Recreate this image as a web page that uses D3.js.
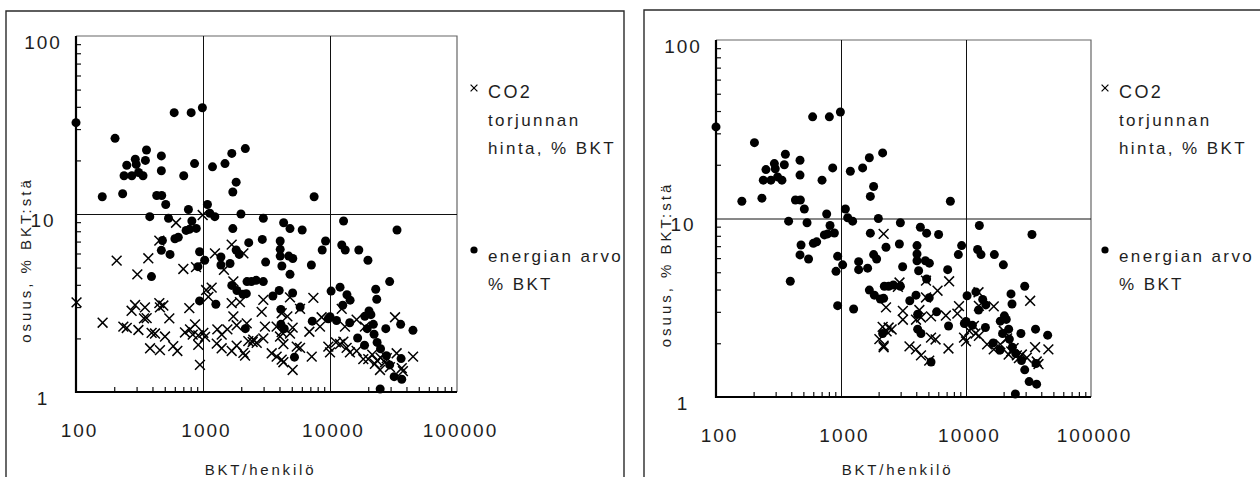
<!DOCTYPE html>
<html>
<head>
<meta charset="utf-8">
<script src="https://cdn.jsdelivr.net/npm/d3@7"></script>
<style>
  body { margin: 0; background: #fff; }
  text { font-family: "Liberation Sans", Arial, sans-serif; fill: #1e1e1e; }
</style>
</head>
<body>
<div id="chart"></div>
<script>
// energian arvo, % BKT  (BKT/henkilö, osuus %) - same set in both panels
var energyPoints = [
  [100,32.6],[203,26.6],[593,37.1],[807,37.1],[989,39.5],[161,12.5],[233,13.0],[239,16.4],
  [275,16.4],[251,18.8],[293,20.3],[298,19.0],[311,17.1],[337,16.4],[359,22.9],[352,20.0],
  [470,21.2],[470,17.5],[432,12.7],[473,12.7],[509,11.3],[705,16.4],[858,19.2],[1188,18.4],
  [1490,19.2],[1686,21.9],[2154,23.3],[1824,15.1],[1717,13.3],[381,9.66],[535,9.46],[768,10.6],
  [817,9.14],[736,8.09],[782,8.2],[885,8.3],[601,7.26],[639,7.4],[479,7.1],[470,6.25],
  [550,5.93],[393,4.45],[1084,11.3],[1131,10.1],[1239,9.66],[940,6.14],[1031,5.5],[912,5.06],
  [1384,5.73],[1384,5.17],[1633,5.27],[940,3.25],[1262,3.11],[1990,10.0],[1717,8.28],[2291,6.9],
  [1824,6.28],[1928,5.93],[2985,9.46],[2931,7.2],[3113,5.37],[1686,3.97],[1849,3.72],[2065,3.54],
  [2193,3.57],[2221,4.17],[2405,4.17],[2622,4.24],[2985,4.17],[2154,2.27],
  [7499,12.5],[4315,8.93],[4842,8.28],[6038,8.13],[12790,9.14],[33700,8.13],[4055,7.05],[4055,6.33],
  [4055,5.8],[4732,5.8],[5093,5.62],[4178,5.1],[7134,5.17],[8684,6.28],[9228,7.05],[12380,6.7],
  [13180,6.28],[16860,6.28],[19900,5.5],[4842,4.58],[5080,3.6],[3981,3.72],[3550,3.46],[5821,3.0],
  [4105,2.91],[4105,2.4],[4365,2.27],[7250,2.5],[5250,1.57],[10200,3.69],[12000,3.88],[13600,3.52],
  [14400,3.28],[12600,3.07],[9700,2.58],[10000,2.65],[11250,2.52],[14300,2.45],[16500,2.01],[18700,1.83],
  [18800,2.66],[20280,2.85],[21000,2.72],[21950,2.4],[22910,3.78],[23340,3.32],[29500,4.17],[27500,2.27],
  [22230,2.11],[23500,1.9],[25000,1.75],[27800,1.6],[29500,1.42],[32000,1.22],[36730,1.18],[24830,1.04],
  [36000,2.4],[45000,2.22],[36300,1.54],[19630,2.27]
];

// CO2 torjunnan hinta, % BKT - left panel
var co2PointsA = [
  [101,3.19],[162,2.45],[209,5.47],[304,4.58],[371,5.64],[236,2.33],[251,2.29],[274,2.86],
  [292,3.08],[310,2.23],[349,2.99],[343,2.59],[360,2.6],[394,2.15],[419,2.13],[383,1.76],
  [458,1.72],[453,3.16],[487,3.06],[458,2.99],[543,2.59],[502,2.05],[583,1.81],[628,1.7],
  [700,4.91],[881,5.03],[613,8.93],[453,7.08],[780,2.96],[721,2.16],[790,2.25],[865,2.4],
  [830,2.1],[918,2.08],[918,1.84],[946,1.42],[1006,2.15],[1038,2.04],[994,9.87],[1058,3.74],
  [1170,3.86],[1102,3.42],[1242,6.01],[1297,2.25],[1403,2.1],[1283,1.87],[1403,1.76],[1556,2.25],
  [1682,1.7],[1462,4.86],[1682,6.73],[2080,6.01],[1734,4.18],[1682,3.16],[1954,3.2],[1734,2.66],
  [1841,2.37],[1841,1.82],[2080,1.66],[2143,1.6],[2274,1.93],[2460,1.91],[2648,1.89],[2209,2.43],
  [2985,3.29],[2897,2.82],[3074,2.33],[2985,2.0],[2489,1.97],[3800,2.33],[4165,2.77],[4616,2.66],
  [4842,3.4],[4040,2.05],[4295,1.86],[4165,2.17],[4842,2.13],[5080,2.3],[3475,1.65],[3800,1.58],
  [4165,1.52],[4295,1.47],[5080,1.33],[5470,1.8],[5810,1.77],[5810,2.93],[7395,3.38],[6880,2.18],
  [7180,1.58],[8340,2.33],[8590,2.63],[9700,1.8],[10000,1.67],[11140,1.9],[11990,1.86],[12740,1.92],
  [12370,2.93],[13120,2.33],[13520,1.77],[14350,1.67],[16200,1.7],[16200,2.55],[18290,1.53],[18840,2.33],
  [20010,1.53],[21500,1.62],[22570,1.44],[24760,1.33],[27100,1.47],[28000,1.55],[29640,1.38],[33480,1.65],
  [32510,2.63],[36730,1.36],[37500,1.31],[45100,1.58],[25000,1.56],[23500,1.5]
];

// CO2 torjunnan hinta, % BKT - right panel
var co2PointsB = [
  [2193,8.2],[2291,3.18],[2938,4.38],[2851,4.14],[4786,4.49],[5920,3.94],[7330,4.45],[4786,3.61],
  [3126,3.04],[4236,3.07],[4365,2.79],[5250,2.83],[3981,2.71],[3126,2.71],[2541,2.39],[2154,2.47],
  [2405,2.45],[2317,2.33],[2028,2.11],[2193,1.9],[2193,1.94],[3531,1.92],[3981,1.85],[4365,1.71],
  [5080,1.6],[5250,2.15],[5710,2.1],[7240,1.87],[6900,2.86],[8790,3.23],[8530,2.93],[9640,2.15],
  [10000,2.05],[10610,2.35],[12590,3.86],[12680,3.24],[11560,2.5],[11930,2.27],[12680,2.2],[14760,1.97],
  [16670,3.22],[16670,1.85],[20040,2.35],[21300,2.13],[21930,1.73],[24040,1.88],[25530,1.71],[27980,1.73],
  [30660,1.66],[32600,3.46],[35700,1.9],[36810,1.58],[38000,1.53],[45600,1.85],[18840,1.97],[26500,1.65],
  [23000,1.8]
];

var xTickLabels = [100, 1000, 10000, 100000];
var yTickLabels = [1, 10, 100];
var xGrid = [1000, 10000];
var yGrid = [10];
var xMinor = [200,300,400,500,600,700,800,900,2000,3000,4000,5000,6000,7000,8000,9000,
              20000,30000,40000,50000,60000,70000,80000,90000];
var yMinor = [2,3,4,5,6,7,8,9,20,30,40,50,60,70,80,90];
var co2Legend = ["CO2", "torjunnan", "hinta, % BKT"];
var energyLegend = ["energian arvo", "% BKT"];
var xTitle = "BKT/henkilö";
var yTitle = "osuus, % BKT:stä";

var W = 1260, H = 477;
var svg = d3.select("#chart").append("svg").attr("width", W).attr("height", H);
svg.append("rect").attr("width", W).attr("height", H).attr("fill", "#fff");

var panels = [
  { frame: [6, 11, 624], l: 76, t: 36, r: 457, b: 392, crosses: co2PointsA, legX: 474 },
  { frame: [644, 10, 1264], l: 716, t: 40, r: 1091, b: 397, crosses: co2PointsB, legX: 1105 }
];

var crossPath = function(s) {
  return "M" + (-s) + "," + (-s) + "L" + s + "," + s + "M" + (-s) + "," + s + "L" + s + "," + (-s);
};

panels.forEach(drawPanel);

function drawPanel(p) {
  var g = svg.append("g");
  var x = d3.scaleLog().domain([100, 100000]).range([p.l, p.r]);
  var y = d3.scaleLog().domain([1, 100]).range([p.b, p.t]);

  // frame around the panel (open at bottom)
  g.append("path")
    .attr("d", "M" + p.frame[0] + "," + H + "V" + p.frame[1] + "H" + p.frame[2] + "V" + H)
    .attr("fill", "none").attr("stroke", "#2a2a2a").attr("stroke-width", 1.4);

  // top and right border of the plot
  g.append("path")
    .attr("d", "M" + p.l + "," + p.t + "H" + p.r + "V" + p.b)
    .attr("fill", "none").attr("stroke", "#666").attr("stroke-width", 1.2);

  // grid lines
  g.append("g").attr("transform", "translate(0," + p.b + ")")
    .call(d3.axisBottom(x).tickValues(xGrid).tickSize(-(p.b - p.t)).tickFormat(""))
    .call(function(a) { a.select(".domain").remove(); })
    .selectAll("line").attr("stroke", "#111").attr("stroke-width", 1);
  g.append("g").attr("transform", "translate(" + p.l + ",0)")
    .call(d3.axisLeft(y).tickValues(yGrid).tickSize(-(p.r - p.l)).tickFormat(""))
    .call(function(a) { a.select(".domain").remove(); })
    .selectAll("line").attr("stroke", "#111").attr("stroke-width", 1);

  // minor ticks pointing inward
  g.append("g").attr("transform", "translate(0," + p.b + ")")
    .call(d3.axisBottom(x).tickValues(xMinor).tickSize(-5).tickFormat(""))
    .call(function(a) { a.select(".domain").remove(); })
    .selectAll("line").attr("stroke", "#111").attr("stroke-width", 1.2);
  g.append("g").attr("transform", "translate(" + p.l + ",0)")
    .call(d3.axisLeft(y).tickValues(yMinor).tickSize(-5).tickFormat(""))
    .call(function(a) { a.select(".domain").remove(); })
    .selectAll("line").attr("stroke", "#111").attr("stroke-width", 1.2);

  // axis lines (left and bottom, heavier)
  g.append("path")
    .attr("d", "M" + p.l + "," + p.t + "V" + p.b + "H" + p.r)
    .attr("fill", "none").attr("stroke", "#000").attr("stroke-width", 2.2);

  // tick labels
  var xa = g.append("g").attr("transform", "translate(0," + p.b + ")")
    .call(d3.axisBottom(x).tickValues(xTickLabels).tickSize(0).tickFormat(d3.format("d")));
  xa.select(".domain").remove();
  xa.selectAll("text").attr("x", 3).attr("y", 45).attr("dy", null)
    .style("font-size", "19px").style("letter-spacing", "2px")
    .style("font-family", "'Liberation Sans', Arial, sans-serif").attr("fill", "#1e1e1e");

  var ya = g.append("g").attr("transform", "translate(" + p.l + ",0)")
    .call(d3.axisLeft(y).tickValues(yTickLabels).tickSize(0).tickFormat(d3.format("d")));
  ya.select(".domain").remove();
  ya.selectAll("text").attr("x", -33).attr("y", 6).attr("text-anchor", "middle")
    .style("font-size", "19px").style("letter-spacing", "2px")
    .style("font-family", "'Liberation Sans', Arial, sans-serif").attr("fill", "#1e1e1e");

  // axis titles
  g.append("text").attr("x", (p.l + p.r) / 2 - 6).attr("y", 475)
    .attr("text-anchor", "middle").style("font-size", "15px").style("letter-spacing", "2.8px")
    .text(xTitle);
  g.append("text")
    .attr("transform", "translate(" + (p.l - 45) + "," + ((p.t + p.b) / 2 + 46) + ") rotate(-90)")
    .attr("text-anchor", "middle").style("font-size", "15px").style("letter-spacing", "3px")
    .text(yTitle);

  // energy dots
  g.append("g").selectAll("circle").data(energyPoints).enter().append("circle")
    .attr("cx", function(d) { return x(d[0]); })
    .attr("cy", function(d) { return y(d[1]); })
    .attr("r", 4.5).attr("fill", "#000");

  // CO2 crosses
  g.append("g").selectAll("path").data(p.crosses).enter().append("path")
    .attr("transform", function(d) { return "translate(" + x(d[0]) + "," + y(d[1]) + ")"; })
    .attr("d", crossPath(4.9))
    .attr("stroke", "#000").attr("stroke-width", 1.5).attr("fill", "none");

  // legend
  var lg = g.append("g");
  lg.append("path").attr("transform", "translate(" + p.legX + ",88)").attr("d", crossPath(3.4))
    .attr("stroke", "#000").attr("stroke-width", 1.2);
  lg.selectAll("text.co2").data(co2Legend).enter().append("text").attr("class", "co2")
    .attr("x", p.legX + 14).attr("y", function(d, i) { return 98 + i * 28; })
    .style("font-size", function(d, i) { return i === 0 ? "18px" : "17px"; })
    .style("letter-spacing", "2.4px")
    .text(function(d) { return d; });
  lg.append("circle").attr("cx", p.legX).attr("cy", 250).attr("r", 3.6).attr("fill", "#000");
  lg.selectAll("text.en").data(energyLegend).enter().append("text").attr("class", "en")
    .attr("x", p.legX + 14).attr("y", function(d, i) { return 262 + i * 28; })
    .style("font-size", "17px").style("letter-spacing", "2.4px")
    .text(function(d) { return d; });
}
</script>
</body>
</html>
